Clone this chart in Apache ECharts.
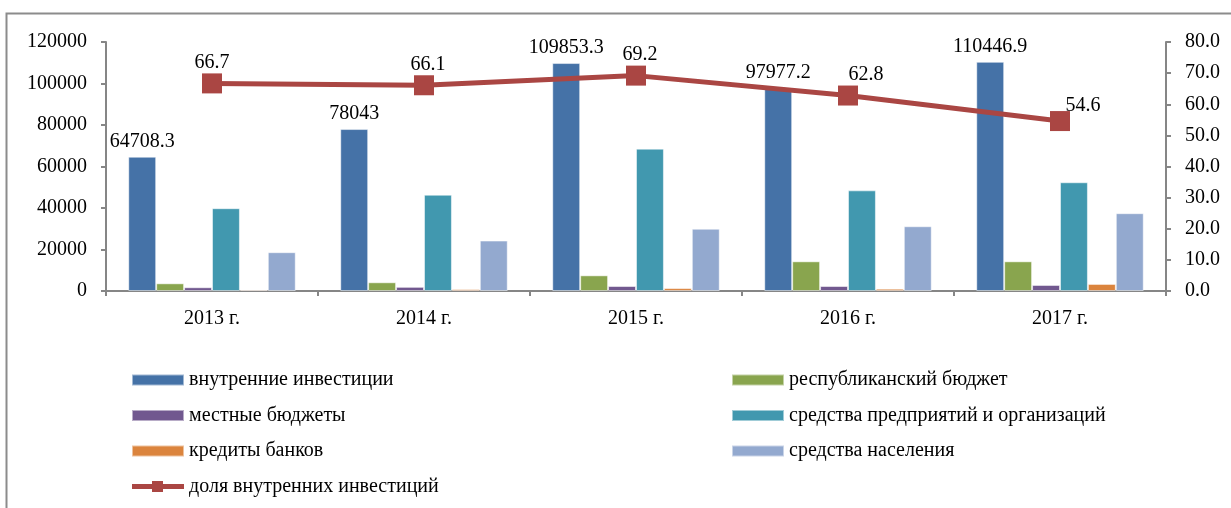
<!DOCTYPE html>
<html>
<head>
<meta charset="utf-8">
<title>Инвестиции</title>
<script src="https://cdn.jsdelivr.net/npm/echarts@6/dist/echarts.min.js"></script>
<style>
  html, body { margin: 0; padding: 0; background: #ffffff; }
  #chart { width: 1231px; height: 508px; }
</style>
</head>
<body>
<div id="chart"></div>
<script>
  // данные
  var years = ['2013 г.', '2014 г.', '2015 г.', '2016 г.', '2017 г.']
  var vnutr = [64708.3, 78043, 109853.3, 97977.2, 110446.9]
  var respBudget = [3700, 4200, 7550, 14300, 14300]
  var mestBudget = [1800, 2000, 2400, 2400, 2900]
  var sredPredpr = [39900, 46400, 68600, 48500, 52400]
  var kredity = [600, 900, 1400, 1100, 3400]
  var sredNasel = [18700, 24300, 30000, 31200, 37500]
  var dolya = [66.7, 66.1, 69.2, 62.8, 54.6]

  var font = '"Liberation Serif", "Times New Roman", serif'
  var axisColor = '#868686'

  function barSeries (name, data, color, showLabel) {
    return {
      name: name,
      type: 'bar',
      data: data,
      barGap: '0%',
      barCategoryGap: '21%',
      itemStyle: { color: color, borderColor: 'rgba(255,255,255,0.5)', borderWidth: 1 },
      label: {
        show: !!showLabel,
        position: 'top',
        distance: 5,
        color: '#000',
        fontFamily: font,
        fontSize: 20
      }
    }
  }

  // сдвиг подписей линии (2016 и 2017 правее)
  var lineLabelOffsets = [[0, 0], [4, 0], [4, 0], [18, 0], [23, 6]]

  var legendBase = {
    orient: 'vertical',
    top: 369,
    padding: 0,
    itemWidth: 52,
    itemHeight: 11,
    itemGap: 13.5,
    icon: 'rect',
    textStyle: { fontFamily: font, fontSize: 20, color: '#000', lineHeight: 22 }
  }

  var chart = echarts.init(document.getElementById('chart'))
  var option = {
    animation: false,
    textStyle: { fontFamily: font },
    graphic: [
      {
        type: 'rect',
        shape: { x: 6.5, y: 13.5, width: 1400, height: 700 },
        style: { fill: 'none', stroke: '#8c8c8c', lineWidth: 2 },
        silent: true
      }
    ],
    grid: { left: 106, right: 65, top: 42, bottom: 217 },
    legend: [
      Object.assign({}, legendBase, {
        left: 131,
        data: [
          'внутренние инвестиции',
          'местные бюджеты',
          'кредиты банков',
          { name: 'доля внутренних инвестиций', icon: 'path://M0,3 L52,3 L52,8 L0,8 Z M20,0 L31,0 L31,11 L20,11 Z' }
        ]
      }),
      Object.assign({}, legendBase, {
        left: 731,
        data: ['республиканский бюджет', 'средства предприятий и организаций', 'средства населения']
      })
    ],
    xAxis: {
      type: 'category',
      data: years,
      axisLine: { lineStyle: { color: axisColor, width: 2 } },
      axisTick: { show: true, length: 5, lineStyle: { color: axisColor, width: 2 } },
      axisLabel: { color: '#000', fontSize: 20, fontFamily: font, margin: 18 }
    },
    yAxis: [
      {
        type: 'value',
        min: 0,
        max: 120000,
        interval: 20000,
        splitLine: { show: false },
        axisLine: { show: true, lineStyle: { color: axisColor, width: 2 } },
        axisTick: { show: true, length: 5, lineStyle: { color: axisColor, width: 2 } },
        axisLabel: {
          color: '#000', fontSize: 20, fontFamily: font, margin: 19,
          formatter: function (v) { return String(v) }
        }
      },
      {
        type: 'value',
        min: 0,
        max: 80,
        interval: 10,
        splitLine: { show: false },
        axisLine: { show: true, lineStyle: { color: axisColor, width: 2 } },
        axisTick: { show: true, length: 5, lineStyle: { color: axisColor, width: 2 } },
        axisLabel: {
          color: '#000', fontSize: 20, fontFamily: font, margin: 19,
          formatter: function (v) { return v.toFixed(1) }
        }
      }
    ],
    series: [
      barSeries('внутренние инвестиции', vnutr, '#4572A7', true),
      barSeries('республиканский бюджет', respBudget, '#89A54E'),
      barSeries('местные бюджеты', mestBudget, '#71588F'),
      barSeries('средства предприятий и организаций', sredPredpr, '#4198AF'),
      barSeries('кредиты банков', kredity, '#DB843D'),
      barSeries('средства населения', sredNasel, '#93A9CF'),
      {
        name: 'доля внутренних инвестиций',
        type: 'line',
        yAxisIndex: 1,
        data: dolya.map(function (v, i) {
          return { value: v, label: { offset: lineLabelOffsets[i] } }
        }),
        symbol: 'rect',
        symbolSize: 20,
        lineStyle: { color: '#AA4643', width: 5 },
        itemStyle: { color: '#AA4643' },
        label: {
          show: true,
          position: 'top',
          distance: 1,
          color: '#000',
          fontFamily: font,
          fontSize: 20,
          formatter: function (p) { return p.value.toFixed(1) }
        }
      }
    ]
  }
  chart.setOption(option)
</script>
</body>
</html>
